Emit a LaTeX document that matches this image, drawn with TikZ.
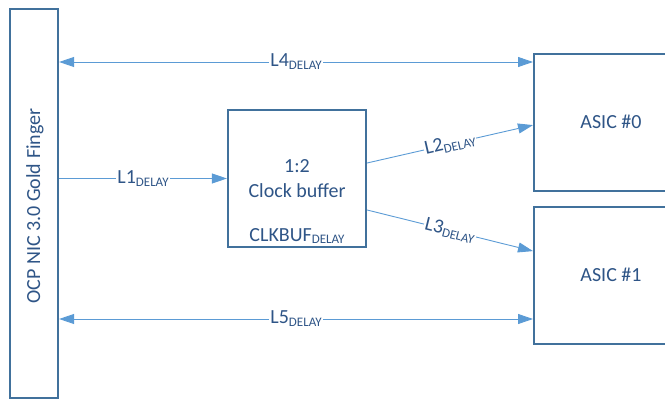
\documentclass[tikz,border=0pt]{standalone}
\usepackage{fontspec}
\setmainfont{Carlito}
\usepackage{tikz}
\usetikzlibrary{arrows.meta,positioning}
\definecolor{boxblue}{RGB}{65,113,156}
\definecolor{linkblue}{RGB}{91,155,213}
\definecolor{textblue}{RGB}{47,85,135}
\tikzset{
    % Kasten der Baugruppen
    unitbox/.style={
        draw=boxblue,
        line width=2.2pt,
        fill=white,
        inner sep=0pt
    },
    unittext/.style={
        text=textblue,
        font=\fontsize{20}{25}\selectfont,
        align=center
    },
    % Verbindungspfeile
    linkarrow/.style={
        line width=0.9pt,
        linkblue,
        -{Triangle[length=15pt, width=10pt]}
    },
    twoarrow/.style={
        linkarrow,
        {Triangle[length=15pt, width=10pt]}-{Triangle[length=15pt, width=10pt]}
    },
    delaylabel/.style={
        fill=white,
        inner sep=1pt,
        text=textblue,
        font=\fontsize{20}{24}\selectfont
    }
}
\newcommand{\dly}[1]{#1\raisebox{-0.3ex}{\fontsize{13}{15}\selectfont DELAY}}

\begin{document}
\begin{tikzpicture}[x=1pt,y=-1pt]
	\useasboundingbox (0,0) rectangle (665,406);
	\clip (0,0) rectangle (665,406);
	
	% Baugruppen
	\node[unitbox, minimum width=48pt, minimum height=389pt] (finger) at (34,203.5) {};
	\node[unittext, rotate=90] (fingertext) at (35,206) {OCP NIC 3.0 Gold Finger};
	\node[unitbox, minimum width=138pt, minimum height=137pt] (clkbuf) at (297,178.5) {};
	\node[unittext] (clkbuftext) at (297,179) {1:2\\Clock buffer};
	\node[unittext] (clkbufdelay) at (297,236) {\dly{CLKBUF}};
	\node[unitbox, minimum width=160pt, minimum height=137pt, anchor=north west] (asic0) at (533,53) {};
	\node[unittext] (asic0text) at (611,122) {ASIC \#0};
	\node[unitbox, minimum width=160pt, minimum height=137pt, anchor=north west] (asic1) at (533,206) {};
	\node[unittext] (asic1text) at (611,275) {ASIC \#1};
	
	\coordinate (l4) at (0,62);
	\coordinate (l5) at (0,319);
	
	% Verbindungen
	\draw[twoarrow] (finger.east |- l4) -- node[delaylabel] {\dly{L4}} (asic0.west |- l4);
	\draw[linkarrow] (finger.east |- clkbuf.west) -- node[delaylabel] {\dly{L1}} (clkbuf.west);
	\draw[linkarrow] ([yshift=15.5pt]clkbuf.east) -- node[delaylabel, sloped] {\dly{L2}} ([yshift=-2.5pt]asic0.west);
	\draw[linkarrow] ([yshift=-31.5pt]clkbuf.east) -- node[delaylabel, sloped] {\dly{L3}} ([yshift=24.5pt]asic1.west);
	\draw[twoarrow] (finger.east |- l5) -- node[delaylabel] {\dly{L5}} (asic1.west |- l5);
\end{tikzpicture}
\end{document}
